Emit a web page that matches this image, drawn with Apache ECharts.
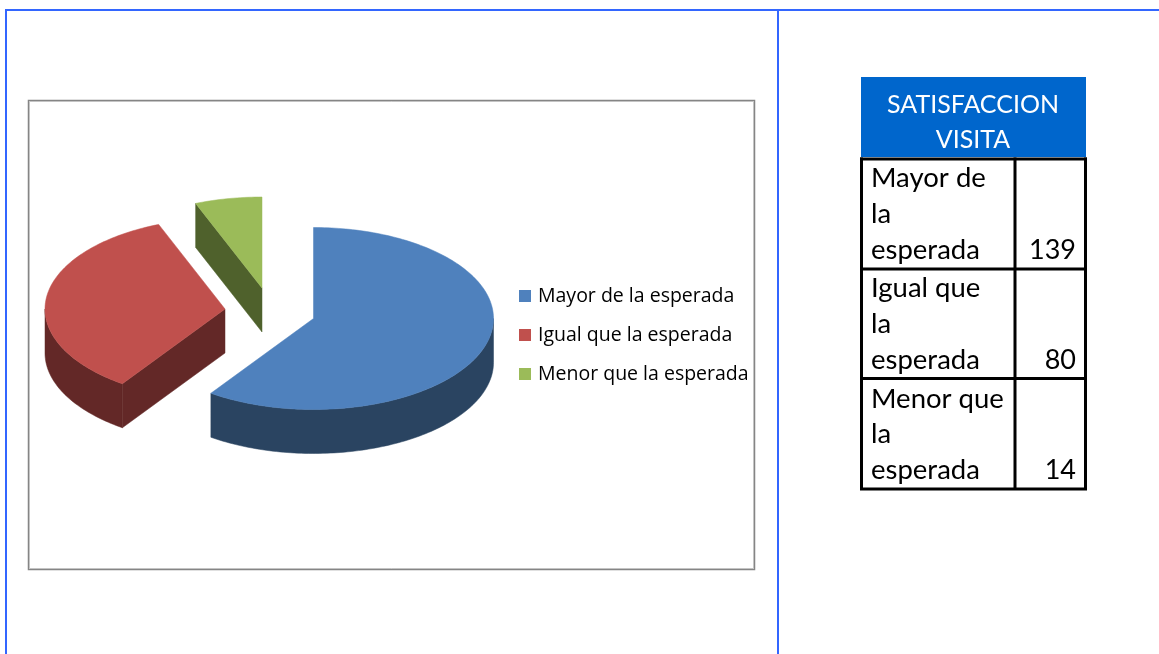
<!DOCTYPE html>
<html>
<head>
<meta charset="utf-8">
<style>html,body{margin:0;padding:0;background:#fff}#c{width:1159px;height:654px}</style>
<script src="https://cdn.jsdelivr.net/npm/echarts@6/dist/echarts.min.js"></script>
</head>
<body>
<div id="c"></div>
<script>
const categories = ['Mayor de la esperada', 'Igual que la esperada', 'Menor que la esperada'];
const values = [139, 80, 14];
const tableTitle = ['SATISFACCION', 'VISITA'];
const tableLabels = [['Mayor de', 'la', 'esperada'], ['Igual que', 'la', 'esperada'], ['Menor que', 'la', 'esperada']];
const topColors = ['#4f81bd', '#c0504d', '#9bbb59'];
const sideColors = ['#2a4461', '#632827', '#4f612c'];
const apexes = [[313.5, 318.5], [225, 309], [262, 288]];

const RX = 180, RY = 91, DEPTH = 44;
const total = values.reduce((a, b) => a + b, 0);
const font = 'Lato, Carlito, sans-serif';

function pt(c, t, dy) {
  return [c[0] + RX * Math.sin(t), c[1] - RY * Math.cos(t) + (dy || 0)];
}
function arc(c, a, b, dy) {
  const n = Math.max(2, Math.ceil(Math.abs(b - a) / 0.02));
  const out = [];
  for (let i = 0; i <= n; i++) out.push(pt(c, a + (b - a) * i / n, dy));
  return out;
}
function poly(points, fill) {
  return { type: 'polygon', shape: { points }, style: { fill, stroke: fill, lineWidth: 0.5 } };
}
function renderSlice(idx) {
  return function (params, api) {
    const v = api.value(0);
    let before = 0;
    for (let i = 0; i < idx; i++) before += values[i];
    const a = before / total * 2 * Math.PI;
    const b = a + v / total * 2 * Math.PI;
    const c = apexes[idx];
    const children = [];
    // outer wall: only the part of the rim facing the viewer
    const w1 = Math.max(a, Math.PI / 2), w2 = Math.min(b, Math.PI * 1.5);
    if (w2 > w1) {
      children.push(poly(arc(c, w1, w2, 0).concat(arc(c, w2, w1, DEPTH)), sideColors[idx]));
    }
    // cut face at the start angle, visible when it faces downward
    if (Math.cos(a - Math.PI / 2) < -1e-6) {
      const r = pt(c, a, 0);
      children.push(poly([[c[0], c[1]], r, [r[0], r[1] + DEPTH], [c[0], c[1] + DEPTH]], sideColors[idx]));
    }
    // top face
    children.push(poly([[c[0], c[1]]].concat(arc(c, a, b, 0)), topColors[idx]));
    return { type: 'group', children };
  };
}

function line(x1, y1, x2, y2, stroke, w) {
  return { type: 'line', silent: true, shape: { x1, y1, x2, y2 }, style: { stroke, lineWidth: w } };
}
function txt(x, y, text, fill, align, size) {
  return { type: 'text', silent: true, x, y, style: { text, fill, font: size + 'px ' + font, textAlign: align, textVerticalAlign: 'middle' } };
}

const graphics = [
  line(6, 9, 6, 654, '#3366ff', 2),
  line(5, 10, 1159, 10, '#3366ff', 2),
  line(778, 10, 778, 654, '#3366ff', 2),
  { type: 'rect', silent: true, shape: { x: 28.5, y: 100.5, width: 726, height: 469 }, style: { fill: 'none', stroke: '#858585', lineWidth: 1.5 } },
  { type: 'rect', silent: true, shape: { x: 29.5, y: 101.5, width: 724, height: 467 }, style: { fill: 'none', stroke: '#c4c4c4', lineWidth: 1 } },
  { type: 'rect', silent: true, shape: { x: 861, y: 77, width: 225, height: 80 }, style: { fill: '#0066cc' } },
  txt(973, 105, tableTitle[0], '#ffffff', 'center', 25),
  txt(973, 140, tableTitle[1], '#ffffff', 'center', 25)
];
const rowTops = [159, 269, 378.5, 489];
[861.5, 1015, 1085.5].forEach(x => graphics.push(line(x, 157.5, x, 490, '#000000', 3)));
rowTops.forEach(y => graphics.push(line(860, y, 1087, y, '#000000', 3)));
const lineCentres = [[178, 214, 250], [288, 324, 360], [399, 434, 470]];
tableLabels.forEach((rows, r) => {
  rows.forEach((t, i) => graphics.push(txt(871, lineCentres[r][i], t, '#000000', 'left', 27.5)));
  graphics.push(txt(1076, lineCentres[r][2], String(values[r]), '#000000', 'right', 27));
});

const chart = echarts.init(document.getElementById('c'), null, { renderer: 'canvas' });
chart.setOption({
  animation: false,
  backgroundColor: '#ffffff',
  color: topColors,
  legend: {
    orient: 'vertical', left: 514, top: 280, itemWidth: 12, itemHeight: 12, itemGap: 17,
    icon: 'rect', selectedMode: false,
    data: categories,
    textStyle: { fontFamily: 'Open Sans', fontSize: 19.5, color: '#000000', padding: [0, 0, 0, 2], lineHeight: 22 }
  },
  graphic: graphics,
  series: categories.map((name, i) => ({
    type: 'custom',
    name,
    coordinateSystem: 'none',
    silent: true,
    itemStyle: { color: topColors[i] },
    renderItem: renderSlice(i),
    data: [[values[i]]]
  }))
});
</script>
</body>
</html>
